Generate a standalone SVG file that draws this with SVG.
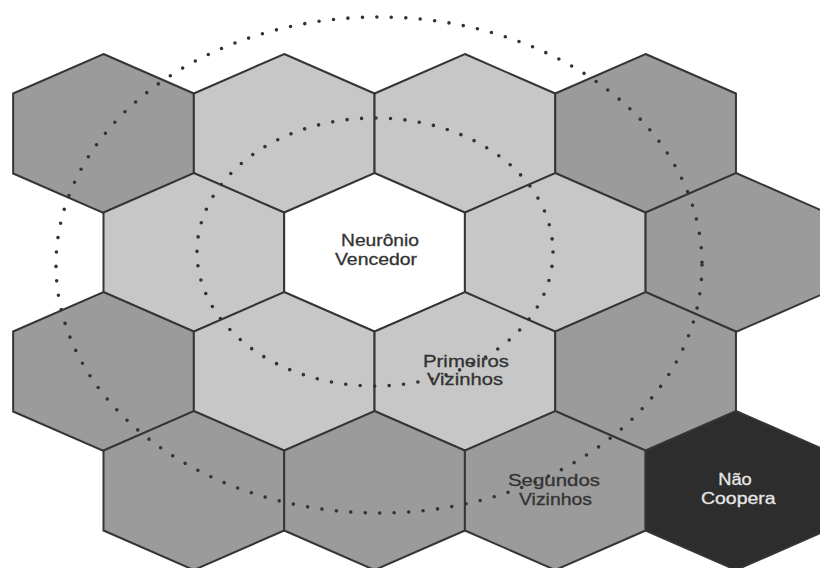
<svg xmlns="http://www.w3.org/2000/svg" xmlns:xlink="http://www.w3.org/1999/xlink" width="820" height="568" viewBox="0 0 820 568">
  <style>
    .hex { stroke: #353535; stroke-width: 2; stroke-linejoin: miter; }
    .dark { fill: #9b9b9b; }
    .light { fill: #c7c7c7; }
    .white { fill: #ffffff; }
    .black { fill: #2d2d2d; }
    .lbl { font-family: "Liberation Sans", Arial, sans-serif; font-size: 16.5px; text-anchor: middle; fill: #333333; stroke: #333333; stroke-width: 0.3; }
    .lbl-inv { fill: #e6e6e6; stroke: #e6e6e6; }
    .ring { fill: none; stroke: #333333; stroke-width: 3.6; stroke-linecap: round; stroke-dasharray: 0 14.5; }
  </style>
  <defs>
    <polygon id="hex" points="0,-79.5 90.35,-40 90.35,40 0,79.5 -90.35,40 -90.35,-40"/>
  </defs>
  <rect width="820" height="568" fill="#ffffff"/>

  <!-- Row 1 -->
  <g id="r1c1" transform="translate(103.5,133.5)"><use xlink:href="#hex" class="hex dark"/></g>
  <g id="r1c2" transform="translate(284.2,133.5)"><use xlink:href="#hex" class="hex light"/></g>
  <g id="r1c3" transform="translate(464.9,133.5)"><use xlink:href="#hex" class="hex light"/></g>
  <g id="r1c4" transform="translate(645.6,133.5)"><use xlink:href="#hex" class="hex dark"/></g>

  <!-- Row 2 -->
  <g id="r2c1" transform="translate(193.85,252.5)"><use xlink:href="#hex" class="hex light"/></g>
  <g id="winner" transform="translate(374.55,252.5)"><use xlink:href="#hex" class="hex white"/></g>
  <g id="r2c3" transform="translate(555.25,252.5)"><use xlink:href="#hex" class="hex light"/></g>
  <g id="r2c4" transform="translate(735.95,252.5)"><use xlink:href="#hex" class="hex dark"/></g>

  <!-- Row 3 -->
  <g id="r3c1" transform="translate(103.5,371.5)"><use xlink:href="#hex" class="hex dark"/></g>
  <g id="r3c2" transform="translate(284.2,371.5)"><use xlink:href="#hex" class="hex light"/></g>
  <g id="first-neighbors" transform="translate(464.9,371.5)"><use xlink:href="#hex" class="hex light"/></g>
  <g id="r3c4" transform="translate(645.6,371.5)"><use xlink:href="#hex" class="hex dark"/></g>

  <!-- Row 4 -->
  <g id="r4c1" transform="translate(193.85,490.5)"><use xlink:href="#hex" class="hex dark"/></g>
  <g id="r4c2" transform="translate(374.55,490.5)"><use xlink:href="#hex" class="hex dark"/></g>
  <g id="second-neighbors" transform="translate(555.25,490.5)"><use xlink:href="#hex" class="hex dark"/></g>
  <g id="no-cooperation" transform="translate(735.95,490.5)"><use xlink:href="#hex" class="hex black"/></g>

  <!-- Neighbourhood rings -->
  <g id="connectors">
    <ellipse class="ring" cx="375" cy="252" rx="178" ry="134"/>
    <ellipse class="ring" cx="379" cy="265" rx="323" ry="248"/>
  </g>

  <!-- Labels -->
  <g id="labels">
    <text class="lbl" x="380" y="246" textLength="78" lengthAdjust="spacingAndGlyphs">Neurônio</text>
    <text class="lbl" x="376" y="265" textLength="82" lengthAdjust="spacingAndGlyphs">Vencedor</text>
    <text class="lbl" x="466" y="367" textLength="86" lengthAdjust="spacingAndGlyphs">Primeiros</text>
    <text class="lbl" x="465" y="385" textLength="76" lengthAdjust="spacingAndGlyphs">Vizinhos</text>
    <text class="lbl" x="554" y="486" textLength="92" lengthAdjust="spacingAndGlyphs">Segundos</text>
    <text class="lbl" x="555.5" y="505" textLength="73" lengthAdjust="spacingAndGlyphs">Vizinhos</text>
    <text class="lbl lbl-inv" x="735" y="485" textLength="33.5" lengthAdjust="spacingAndGlyphs">Não</text>
    <text class="lbl lbl-inv" x="738.3" y="504" textLength="74.7" lengthAdjust="spacingAndGlyphs">Coopera</text>
  </g>
</svg>
